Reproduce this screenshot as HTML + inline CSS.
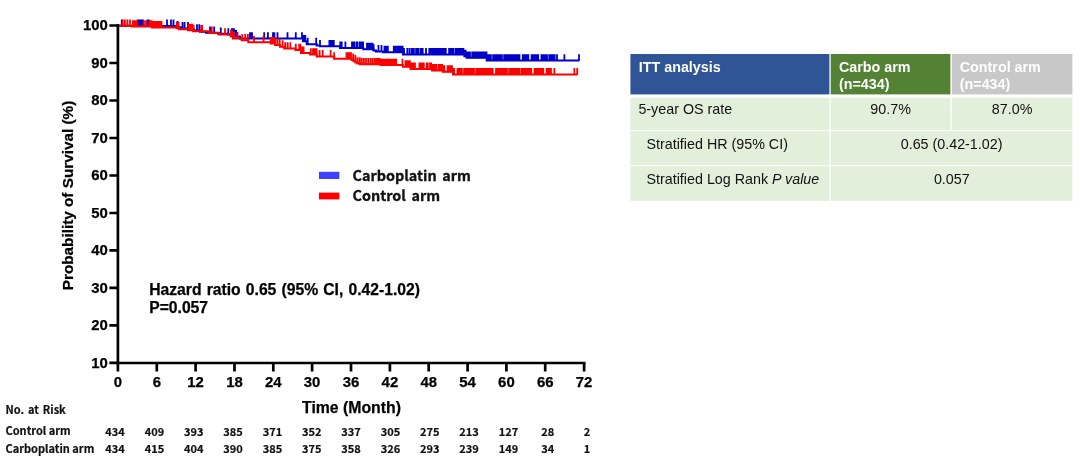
<!DOCTYPE html>
<html lang="en"><head><meta charset="utf-8"><title>OS ITT analysis</title>
<style>
html,body{margin:0;padding:0;background:#fff;}
body{width:1080px;height:463px;position:relative;overflow:hidden;font-family:"Liberation Sans",Arial,sans-serif;}
</style></head><body>
<svg width="1080" height="463" viewBox="0 0 1080 463" style="position:absolute;left:0;top:0">
<g fill="none" stroke="#0000c8" stroke-width="2"><path d="M118.4 25.8H150.0V26.0H177.0V27.3H181.0V28.4H189.0V29.6H194.0V30.6H200.0V31.8H206.0V32.8H218.0V33.8H228.0V34.6H234.0V36.5H240.0V38.6H302.0V38.6H303.0V41.3H306.7V44.2H316.7V45.4H320.0V46.3H340.0V47.9H363.3V49.2H373.5V50.6H376.0V51.4H383.0V52.2H403.0V54.4H463.0V54.4H464.5V56.2H466.7V57.8H486.7V60.6H579.0V60.6"/><path stroke-width="1.8" d="M121.8 26.3v-6.9M137.6 26.3v-6.9M138.7 26.3v-6.9M139.8 26.3v-6.9M140.9 26.3v-6.9M142.0 26.3v-6.9M143.1 26.3v-6.9M147.5 26.3v-6.9M149.0 26.3v-6.9M167.0 26.5v-6.9M171.0 26.5v-6.9M173.5 26.5v-6.9M177.5 27.8v-6.9M182.5 28.9v-6.9M184.6 28.9v-6.9M188.0 28.9v-6.9M197.0 31.1v-6.9M199.3 31.1v-6.9M210.0 33.3v-6.9M214.2 33.3v-6.9M220.8 34.3v-6.9M228.3 35.1v-6.9M231.7 35.1v-6.9M232.8 35.1v-6.9M233.9 35.1v-6.9M235.0 37.0v-6.9M236.1 37.0v-6.9M250.0 39.1v-6.9M251.0 39.1v-6.9M252.0 39.1v-6.9M264.2 39.1v-6.9M267.9 39.1v-6.9M273.0 39.1v-6.9M274.4 39.1v-6.9M277.5 39.1v-6.9M287.5 39.1v-6.9M295.8 39.1v-6.9M302.0 39.1v-6.9M303.1 41.8v-6.9M304.2 41.8v-6.9M305.3 41.8v-6.9M307.7 44.7v-6.9M316.2 44.7v-6.9M320.0 46.8v-6.9M329.4 46.8v-6.9M330.5 46.8v-6.9M331.6 46.8v-6.9M332.7 46.8v-6.9M333.8 46.8v-6.9M340.3 48.4v-6.9M341.7 48.4v-6.9M345.4 48.4v-6.9M352.0 48.4v-6.9M353.1 48.4v-6.9M354.2 48.4v-6.9M356.4 48.4v-6.9M357.5 48.4v-6.9M359.8 48.4v-6.9M360.9 48.4v-6.9M362.0 48.4v-6.9M363.1 48.4v-6.9M367.0 49.7v-6.9M368.1 49.7v-6.9M369.2 49.7v-6.9M370.3 49.7v-6.9M371.4 49.7v-6.9M372.5 49.7v-6.9M373.6 51.1v-6.9M378.5 51.9v-6.9M381.5 51.9v-6.9M384.5 52.7v-6.9M385.6 52.7v-6.9M386.7 52.7v-6.9M387.8 52.7v-6.9M393.8 52.7v-6.9M394.9 52.7v-6.9M396.0 52.7v-6.9M397.1 52.7v-6.9M398.2 52.7v-6.9M399.3 52.7v-6.9M400.4 52.7v-6.9M401.5 52.7v-6.9M402.6 52.7v-6.9M404.0 54.9v-6.9M407.3 54.9v-6.9M409.5 54.9v-6.9M411.7 54.9v-6.9M412.8 54.9v-6.9M413.9 54.9v-6.9M416.1 54.9v-6.9M417.2 54.9v-6.9M418.3 54.9v-6.9M420.5 54.9v-6.9M421.6 54.9v-6.9M422.7 54.9v-6.9M426.0 54.9v-6.9M429.3 54.9v-6.9M430.4 54.9v-6.9M431.5 54.9v-6.9M432.6 54.9v-6.9M433.7 54.9v-6.9M434.8 54.9v-6.9M435.9 54.9v-6.9M437.0 54.9v-6.9M438.1 54.9v-6.9M439.2 54.9v-6.9M440.3 54.9v-6.9M441.4 54.9v-6.9M442.5 54.9v-6.9M443.6 54.9v-6.9M444.7 54.9v-6.9M445.8 54.9v-6.9M449.1 54.9v-6.9M450.2 54.9v-6.9M451.3 54.9v-6.9M452.4 54.9v-6.9M453.5 54.9v-6.9M455.7 54.9v-6.9M456.8 54.9v-6.9M457.9 54.9v-6.9M459.0 54.9v-6.9M460.1 54.9v-6.9M461.2 54.9v-6.9M462.3 54.9v-6.9M463.4 54.9v-6.9M464.5 56.7v-6.9M465.6 56.7v-6.9M466.7 58.3v-6.9M467.8 58.3v-6.9M468.9 58.3v-6.9M470.0 58.3v-6.9M472.2 58.3v-6.9M473.3 58.3v-6.9M474.4 58.3v-6.9M475.5 58.3v-6.9M476.6 58.3v-6.9M477.7 58.3v-6.9M478.8 58.3v-6.9M479.9 58.3v-6.9M481.0 58.3v-6.9M482.1 58.3v-6.9M483.2 58.3v-6.9M484.3 58.3v-6.9M485.4 58.3v-6.9M486.5 58.3v-6.9M487.6 61.1v-6.9M488.7 61.1v-6.9M489.8 61.1v-6.9M490.9 61.1v-6.9M493.1 61.1v-6.9M494.2 61.1v-6.9M495.3 61.1v-6.9M496.4 61.1v-6.9M497.5 61.1v-6.9M498.6 61.1v-6.9M499.7 61.1v-6.9M500.8 61.1v-6.9M501.9 61.1v-6.9M504.1 61.1v-6.9M505.2 61.1v-6.9M506.3 61.1v-6.9M507.4 61.1v-6.9M508.5 61.1v-6.9M509.6 61.1v-6.9M510.7 61.1v-6.9M511.8 61.1v-6.9M512.9 61.1v-6.9M514.0 61.1v-6.9M515.1 61.1v-6.9M516.2 61.1v-6.9M517.3 61.1v-6.9M518.4 61.1v-6.9M519.5 61.1v-6.9M522.8 61.1v-6.9M523.9 61.1v-6.9M525.0 61.1v-6.9M526.1 61.1v-6.9M527.2 61.1v-6.9M528.3 61.1v-6.9M531.6 61.1v-6.9M532.7 61.1v-6.9M533.8 61.1v-6.9M534.9 61.1v-6.9M536.0 61.1v-6.9M537.1 61.1v-6.9M538.2 61.1v-6.9M541.5 61.1v-6.9M542.6 61.1v-6.9M543.7 61.1v-6.9M544.8 61.1v-6.9M545.9 61.1v-6.9M547.0 61.1v-6.9M549.2 61.1v-6.9M550.3 61.1v-6.9M551.4 61.1v-6.9M552.5 61.1v-6.9M553.6 61.1v-6.9M554.7 61.1v-6.9M557.0 61.1v-6.9M564.4 61.1v-6.9M579.0 61.1v-6.9"/></g>
<g fill="none" stroke="#ff0000" stroke-width="2"><path d="M118.4 25.8H132.0V26.6H152.0V27.4H176.7V28.2H179.0V29.2H188.0V30.2H193.0V31.3H209.2V33.0H219.2V34.6H230.8V36.5H233.0V38.4H241.7V40.3H248.3V42.2H270.8V43.4H275.0V45.1H280.0V46.8H284.2V48.6H295.5V50.1H301.0V52.9H310.0V54.6H316.7V56.5H334.2V58.8H351.7V60.0H353.5V61.3H355.5V62.6H357.5V63.6H360.0V64.3H380.5V65.1H402.8V66.7H410.5V68.9H432.0V70.4H442.8V71.7H453.0V74.4H577.2V74.4"/><path stroke-width="1.8" d="M122.8 26.3v-6.9M124.9 26.3v-6.9M127.4 26.3v-6.9M130.0 26.3v-6.9M132.9 27.1v-6.9M134.0 27.1v-6.9M135.1 27.1v-6.9M136.2 27.1v-6.9M137.3 27.1v-6.9M144.0 27.1v-6.9M146.0 27.1v-6.9M149.4 27.1v-6.9M150.5 27.1v-6.9M151.6 27.1v-6.9M152.7 27.9v-6.9M153.8 27.9v-6.9M154.9 27.9v-6.9M156.0 27.9v-6.9M157.1 27.9v-6.9M158.2 27.9v-6.9M159.3 27.9v-6.9M160.4 27.9v-6.9M161.5 27.9v-6.9M176.8 28.7v-6.9M178.6 28.7v-6.9M188.8 30.7v-6.9M190.0 30.7v-6.9M191.2 30.7v-6.9M192.4 30.7v-6.9M193.6 31.8v-6.9M201.2 31.8v-6.9M202.2 31.8v-6.9M211.8 33.5v-6.9M225.0 35.1v-6.9M230.8 37.0v-6.9M231.9 37.0v-6.9M233.0 38.9v-6.9M234.1 38.9v-6.9M237.5 38.9v-6.9M242.3 40.8v-6.9M245.2 40.8v-6.9M247.9 40.8v-6.9M254.0 42.7v-6.9M263.6 42.7v-6.9M270.8 43.9v-6.9M271.9 43.9v-6.9M273.0 43.9v-6.9M274.1 43.9v-6.9M275.2 45.6v-6.9M277.4 45.6v-6.9M279.7 45.6v-6.9M282.6 47.2v-6.9M285.2 49.1v-6.9M287.7 49.1v-6.9M290.4 49.1v-6.9M295.8 50.6v-6.9M299.2 50.6v-6.9M300.3 50.6v-6.9M301.4 53.4v-6.9M302.5 53.4v-6.9M303.6 53.4v-6.9M310.8 55.1v-6.9M313.0 55.1v-6.9M314.2 55.1v-6.9M315.4 55.1v-6.9M316.6 55.1v-6.9M319.6 57.0v-6.9M322.7 57.0v-6.9M330.6 57.0v-6.9M334.2 59.2v-6.9M346.5 59.2v-6.9M348.0 59.2v-6.9M349.7 59.2v-6.9M351.0 59.2v-6.9M353.2 60.5v-6.9M355.4 61.8v-6.9M357.6 64.1v-6.9M359.8 64.1v-6.9M361.8 64.8v-6.9M363.9 64.8v-6.9M366.0 64.8v-6.9M368.2 64.8v-6.9M370.4 64.8v-6.9M372.5 64.8v-6.9M374.6 64.8v-6.9M376.5 64.8v-6.9M377.6 64.8v-6.9M378.7 64.8v-6.9M379.8 64.8v-6.9M380.9 65.6v-6.9M382.0 65.6v-6.9M383.1 65.6v-6.9M384.2 65.6v-6.9M385.3 65.6v-6.9M386.4 65.6v-6.9M387.5 65.6v-6.9M388.6 65.6v-6.9M389.7 65.6v-6.9M390.8 65.6v-6.9M391.9 65.6v-6.9M393.0 65.6v-6.9M394.1 65.6v-6.9M395.2 65.6v-6.9M396.3 65.6v-6.9M402.5 65.6v-6.9M405.5 67.2v-6.9M406.6 67.2v-6.9M407.7 67.2v-6.9M408.8 67.2v-6.9M409.9 67.2v-6.9M411.7 69.4v-6.9M412.8 69.4v-6.9M413.9 69.4v-6.9M415.0 69.4v-6.9M419.4 69.4v-6.9M420.5 69.4v-6.9M421.6 69.4v-6.9M422.7 69.4v-6.9M423.8 69.4v-6.9M426.7 69.4v-6.9M427.8 69.4v-6.9M430.0 69.4v-6.9M431.1 69.4v-6.9M432.2 70.9v-6.9M433.3 70.9v-6.9M434.4 70.9v-6.9M435.5 70.9v-6.9M436.6 70.9v-6.9M438.8 70.9v-6.9M439.9 70.9v-6.9M441.0 70.9v-6.9M442.1 70.9v-6.9M443.2 72.2v-6.9M444.3 72.2v-6.9M447.6 72.2v-6.9M448.7 72.2v-6.9M449.8 72.2v-6.9M450.9 72.2v-6.9M452.0 72.2v-6.9M453.1 74.9v-6.9M454.2 74.9v-6.9M457.5 74.9v-6.9M458.6 74.9v-6.9M459.7 74.9v-6.9M460.8 74.9v-6.9M461.9 74.9v-6.9M464.1 74.9v-6.9M465.2 74.9v-6.9M466.3 74.9v-6.9M467.4 74.9v-6.9M468.5 74.9v-6.9M469.6 74.9v-6.9M470.7 74.9v-6.9M471.8 74.9v-6.9M472.9 74.9v-6.9M474.0 74.9v-6.9M476.2 74.9v-6.9M477.3 74.9v-6.9M478.4 74.9v-6.9M479.5 74.9v-6.9M480.6 74.9v-6.9M481.7 74.9v-6.9M482.8 74.9v-6.9M483.9 74.9v-6.9M485.0 74.9v-6.9M486.1 74.9v-6.9M487.2 74.9v-6.9M488.3 74.9v-6.9M489.4 74.9v-6.9M490.5 74.9v-6.9M491.6 74.9v-6.9M492.7 74.9v-6.9M496.0 74.9v-6.9M497.1 74.9v-6.9M498.2 74.9v-6.9M499.3 74.9v-6.9M500.4 74.9v-6.9M501.5 74.9v-6.9M502.6 74.9v-6.9M503.7 74.9v-6.9M504.8 74.9v-6.9M505.9 74.9v-6.9M507.0 74.9v-6.9M509.2 74.9v-6.9M510.3 74.9v-6.9M511.4 74.9v-6.9M512.5 74.9v-6.9M513.6 74.9v-6.9M514.7 74.9v-6.9M515.8 74.9v-6.9M516.9 74.9v-6.9M518.0 74.9v-6.9M519.1 74.9v-6.9M521.3 74.9v-6.9M522.4 74.9v-6.9M523.5 74.9v-6.9M524.6 74.9v-6.9M525.7 74.9v-6.9M526.8 74.9v-6.9M527.9 74.9v-6.9M529.0 74.9v-6.9M530.1 74.9v-6.9M531.2 74.9v-6.9M534.5 74.9v-6.9M535.6 74.9v-6.9M536.7 74.9v-6.9M537.8 74.9v-6.9M538.9 74.9v-6.9M540.0 74.9v-6.9M541.1 74.9v-6.9M542.2 74.9v-6.9M543.3 74.9v-6.9M546.6 74.9v-6.9M547.7 74.9v-6.9M548.8 74.9v-6.9M549.9 74.9v-6.9M551.0 74.9v-6.9M554.4 74.9v-6.9M574.4 74.9v-6.9M577.2 74.9v-6.9"/></g>
<g stroke="#000" stroke-width="2.7" fill="none">
<path d="M117.9 24.1V363.0H585.5"/>
<path d="M117.9 25.5h-8.5M117.9 63.0h-8.5M117.9 100.5h-8.5M117.9 138.0h-8.5M117.9 175.5h-8.5M117.9 213.0h-8.5M117.9 250.4h-8.5M117.9 287.9h-8.5M117.9 325.4h-8.5M117.9 362.9h-8.5M117.9 363.0v8.6M156.8 363.0v8.6M195.6 363.0v8.6M234.5 363.0v8.6M273.3 363.0v8.6M312.1 363.0v8.6M351.0 363.0v8.6M389.9 363.0v8.6M428.7 363.0v8.6M467.6 363.0v8.6M506.4 363.0v8.6M545.2 363.0v8.6M584.1 363.0v8.6"/>
</g>
<g font-family="'Liberation Sans', Arial, sans-serif" font-weight="700" font-size="14.9" fill="#000" stroke="#000" stroke-width="0.25">
<text x="107.8" y="30.2" text-anchor="end">100</text>
<text x="107.8" y="67.7" text-anchor="end">90</text>
<text x="107.8" y="105.2" text-anchor="end">80</text>
<text x="107.8" y="142.7" text-anchor="end">70</text>
<text x="107.8" y="180.2" text-anchor="end">60</text>
<text x="107.8" y="217.7" text-anchor="end">50</text>
<text x="107.8" y="255.1" text-anchor="end">40</text>
<text x="107.8" y="292.6" text-anchor="end">30</text>
<text x="107.8" y="330.1" text-anchor="end">20</text>
<text x="107.8" y="367.6" text-anchor="end">10</text>
<text x="117.9" y="387.2" text-anchor="middle">0</text>
<text x="156.8" y="387.2" text-anchor="middle">6</text>
<text x="195.6" y="387.2" text-anchor="middle">12</text>
<text x="234.5" y="387.2" text-anchor="middle">18</text>
<text x="273.3" y="387.2" text-anchor="middle">24</text>
<text x="312.1" y="387.2" text-anchor="middle">30</text>
<text x="351.0" y="387.2" text-anchor="middle">36</text>
<text x="389.9" y="387.2" text-anchor="middle">42</text>
<text x="428.7" y="387.2" text-anchor="middle">48</text>
<text x="467.6" y="387.2" text-anchor="middle">54</text>
<text x="506.4" y="387.2" text-anchor="middle">60</text>
<text x="545.2" y="387.2" text-anchor="middle">66</text>
<text x="584.1" y="387.2" text-anchor="middle">72</text>
</g>
<g font-family="'Liberation Sans', Arial, sans-serif" font-weight="700" fill="#000" stroke="#000" stroke-width="0.25">
<text x="351.5" y="412.6" font-size="15.8" text-anchor="middle">Time (Month)</text>
<text transform="translate(72.8 195.5) rotate(-90)" font-size="15.3" text-anchor="middle">Probability of Survival (%)</text>
<text x="149.2" y="294.8" font-size="15.7" word-spacing="0.8">Hazard ratio 0.65 (95% CI, 0.42-1.02)</text>
<text x="149.2" y="312.6" font-size="15.7">P=0.057</text>
</g>
<rect x="319" y="171.8" width="20.4" height="7.2" fill="#4040ff"/>
<rect x="319" y="192.6" width="20.4" height="6.8" fill="#ff0000"/>
<g font-family="'Noto Sans CJK KR', NanumGothic, 'Liberation Sans', sans-serif" font-weight="700" fill="#111" font-size="14.4" word-spacing="2.3" stroke="#111" stroke-width="0.3">
<text x="352.5" y="180.6">Carboplatin arm</text>
<text x="352.5" y="201.1">Control arm</text>
</g>
<g font-family="'Noto Sans CJK KR', NanumGothic, 'Liberation Sans', sans-serif" font-weight="700" fill="#111" font-size="11" stroke="#111" stroke-width="0.2">
<text x="5.5" y="414.2" word-spacing="1.4">No. at Risk</text>
<text x="5.5" y="435">Control arm</text>
<text x="5.5" y="453">Carboplatin arm</text>
<text x="115.1" y="436" text-anchor="middle">434</text>
<text x="115.1" y="453" text-anchor="middle">434</text>
<text x="154.4" y="436" text-anchor="middle">409</text>
<text x="154.4" y="453" text-anchor="middle">415</text>
<text x="193.8" y="436" text-anchor="middle">393</text>
<text x="193.8" y="453" text-anchor="middle">404</text>
<text x="233.1" y="436" text-anchor="middle">385</text>
<text x="233.1" y="453" text-anchor="middle">390</text>
<text x="272.4" y="436" text-anchor="middle">371</text>
<text x="272.4" y="453" text-anchor="middle">385</text>
<text x="311.8" y="436" text-anchor="middle">352</text>
<text x="311.8" y="453" text-anchor="middle">375</text>
<text x="351.1" y="436" text-anchor="middle">337</text>
<text x="351.1" y="453" text-anchor="middle">358</text>
<text x="390.4" y="436" text-anchor="middle">305</text>
<text x="390.4" y="453" text-anchor="middle">326</text>
<text x="429.7" y="436" text-anchor="middle">275</text>
<text x="429.7" y="453" text-anchor="middle">293</text>
<text x="469.1" y="436" text-anchor="middle">213</text>
<text x="469.1" y="453" text-anchor="middle">239</text>
<text x="508.4" y="436" text-anchor="middle">127</text>
<text x="508.4" y="453" text-anchor="middle">149</text>
<text x="547.7" y="436" text-anchor="middle">28</text>
<text x="547.7" y="453" text-anchor="middle">34</text>
<text x="587.1" y="436" text-anchor="middle">2</text>
<text x="587.1" y="453" text-anchor="middle">1</text>
</g>
<g shape-rendering="geometricPrecision">
<rect x="630.4" y="54.0" width="199.0" height="40.4" fill="#2f5597"/>
<rect x="830.7" y="54.0" width="119.7" height="40.4" fill="#548235"/>
<rect x="951.8" y="54.0" width="120.6" height="40.4" fill="#c8c8c8"/>
<rect x="630.4" y="97.8" width="199.0" height="32.4" fill="#e2efda"/>
<rect x="830.7" y="97.8" width="119.7" height="32.4" fill="#e2efda"/>
<rect x="951.8" y="97.8" width="120.6" height="32.4" fill="#e2efda"/>
<rect x="630.4" y="131.2" width="199.0" height="34.0" fill="#e2efda"/>
<rect x="830.7" y="131.2" width="241.7" height="34.0" fill="#e2efda"/>
<rect x="630.4" y="166.2" width="199.0" height="34.7" fill="#e2efda"/>
<rect x="830.7" y="166.2" width="241.7" height="34.7" fill="#e2efda"/>
</g>
<g font-family="'Liberation Sans', Arial, sans-serif" font-weight="700" font-size="14.3" fill="#fff">
<text x="638.8" y="71.8">ITT analysis</text>
<text x="839" y="71.8">Carbo arm</text><text x="839" y="88.6">(n=434)</text>
<text x="959.8" y="71.8">Control arm</text><text x="959.8" y="88.6">(n=434)</text>
</g>
<g font-family="'Liberation Sans', Arial, sans-serif" font-size="14.3" fill="#111">
<text x="638.4" y="114.1">5-year OS rate</text>
<text x="646.5" y="149.2">Stratified HR (95% CI)</text>
<text x="646.5" y="184.3">Stratified Log Rank <tspan font-style="italic">P value</tspan></text>
<text x="890.6" y="114.1" text-anchor="middle">90.7%</text>
<text x="1012.1" y="114.1" text-anchor="middle">87.0%</text>
<text x="951.6" y="149.2" text-anchor="middle">0.65 (0.42-1.02)</text>
<text x="951.8" y="184.3" text-anchor="middle">0.057</text>
</g>
</svg>

</body></html>
